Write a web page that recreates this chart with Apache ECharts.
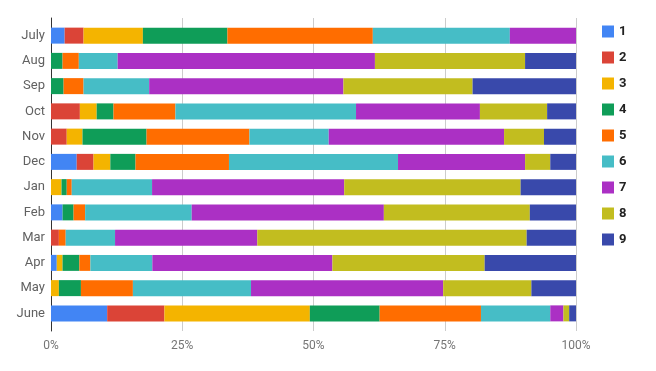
<!DOCTYPE html>
<html>
<head>
<meta charset="utf-8">
<script src="https://cdn.jsdelivr.net/npm/echarts@6/dist/echarts.min.js"></script>
<style>
html,body{margin:0;padding:0;background:#fff;}
#chart{width:656px;height:371px;}
</style>
</head>
<body>
<div id="chart"></div>
<script>
const categories = ['July','Aug','Sep','Oct','Nov','Dec','Jan','Feb','Mar','Apr','May','June'];
const seriesNames = ['1','2','3','4','5','6','7','8','9'];
const tickLabels = ['0%','25%','50%','75%','100%'];
// percent share of each series per month (July ... June)
const s1 = [2.6, 0,   0,   0,    0,    4.9,  0,    2.2,  0,    1.1,  0,    10.7];
const s2 = [3.6, 0,   0,   5.5,  3.0,  3.2,  0,    0,    1.5,  0,    0,    10.9];
const s3 = [11.3,0,   0,   3.2,  3.0,  3.2,  2.0,  0,    0,    1.1,  1.5,  27.7];
const s4 = [16.1,2.2, 2.4, 3.2,  12.2, 4.8,  1.0,  2.1,  0,    3.2,  4.2,  13.3];
const s5 = [27.7,3.1, 3.8, 11.8, 19.6, 17.8, 0.95, 2.2,  1.3,  2.1,  9.9,  19.3];
const s6 = [26.1,7.4, 12.5,34.4, 15.1, 32.2, 15.3, 20.3, 9.4,  11.8, 22.5, 13.2];
const s7 = [12.6,49.0,37.0,23.6, 33.4, 24.2, 36.6, 36.6, 27.1, 34.3, 36.6, 2.5];
const s8 = [0,   28.6,24.6,12.8, 7.6,  4.8,  33.6, 27.8, 51.3, 29.0, 16.8, 1.1];
const s9 = [0,   9.7, 19.8,5.5,  6.1,  4.9,  10.55,8.8,  9.4,  17.4, 8.5,  1.3];
const seriesData = [s1,s2,s3,s4,s5,s6,s7,s8,s9];
const colors = ['#4285F4','#DB4437','#F4B400','#0F9D58','#FF6D00','#46BDC6','#AB30C4','#C2BD1F','#3949AB'];

const chart = echarts.init(document.getElementById('chart'), null, {renderer:'canvas'});
const series = seriesNames.map((n,i)=>({
  name:n, type:'bar', stack:'total', xAxisIndex:1, yAxisIndex:1,
  barWidth:16, data:seriesData[i], itemStyle:{color:colors[i]},
  emphasis:{disabled:true}
}));
chart.setOption({
  animation:false,
  color:colors,
  textStyle:{fontFamily:'Roboto'},
  legend:{
    orient:'vertical', left:597, top:20, itemWidth:12, itemHeight:12, itemGap:13,
    icon:'rect', data:seriesNames,
    textStyle:{color:'#222', fontWeight:'bold', fontSize:13, fontFamily:'Roboto'}
  },
  grid:[
    {left:51, right:80, top:18, bottom:40, containLabel:false},
    {left:51, right:80, top:23, height:303, containLabel:false}
  ],
  xAxis:[
    {gridIndex:0, type:'value', min:0, max:100, interval:25,
     axisLine:{show:false}, axisTick:{show:false},
     splitLine:{lineStyle:{color:'#cccccc', width:1}},
     axisLabel:{color:'#757575', fontSize:12, margin:9, fontFamily:'Roboto',
       formatter:(v)=>tickLabels[Math.round(v/25)]}},
    {gridIndex:1, type:'value', min:0, max:100, show:false}
  ],
  yAxis:[
    {gridIndex:0, type:'category', data:[''], axisLine:{show:true, lineStyle:{color:'#333', width:1}},
     axisTick:{show:false}, axisLabel:{show:false}, splitLine:{show:false}},
    {gridIndex:1, type:'category', data:categories, inverse:true,
     axisLine:{show:false}, axisTick:{show:false}, splitLine:{show:false},
     axisLabel:{color:'#616161', fontSize:13, margin:6, fontFamily:'Roboto'}}
  ],
  series:series
});
</script>
</body>
</html>
